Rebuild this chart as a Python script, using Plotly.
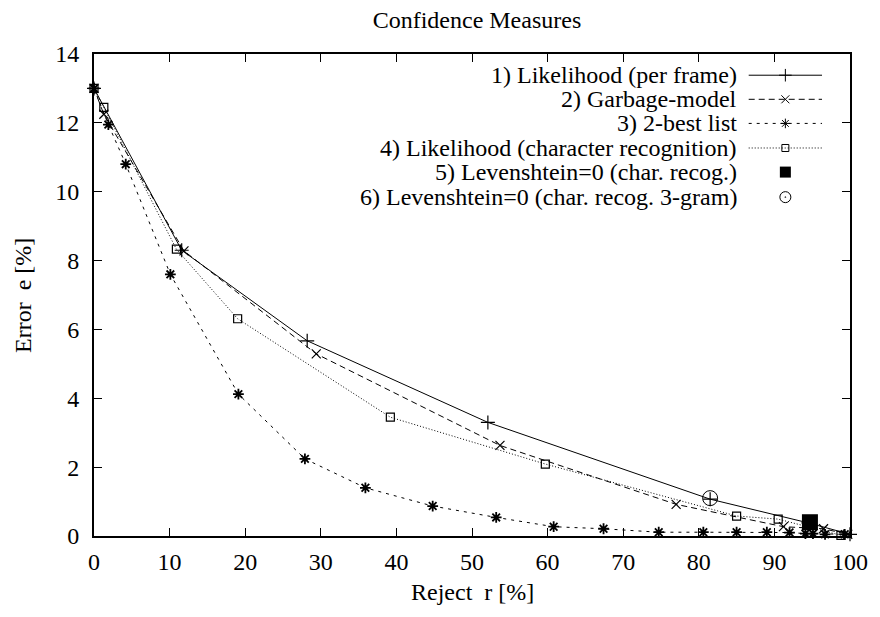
import plotly.graph_objects as go

# ---- data ----
s1_x = [0, 11.6, 28.2, 52.1, 81.5, 94.5, 100]
s1_y = [13.0, 8.3, 5.67, 3.3, 1.07, 0.38, 0.05]

s2_x = [0, 1.3, 11.9, 29.4, 53.7, 77.0, 91.2, 96.5, 99.7]
s2_y = [13.0, 12.25, 8.28, 5.29, 2.63, 0.92, 0.27, 0.21, 0.05]

s3_x = [0, 1.9, 4.2, 10.1, 19.1, 27.9, 35.9, 44.8, 53.2, 60.8, 67.4, 74.7, 80.6, 85.0, 89.0, 92.0, 94.1, 95.1, 96.7, 99.3]
s3_y = [13.0, 11.95, 10.8, 7.6, 4.12, 2.24, 1.40, 0.87, 0.54, 0.27, 0.21, 0.11, 0.11, 0.11, 0.11, 0.1, 0.07, 0.07, 0.05, 0.05]

s4_x = [0, 1.3, 10.9, 19.0, 39.2, 59.7, 85.0, 90.5, 98.8]
s4_y = [13.0, 12.45, 8.33, 6.31, 3.45, 2.09, 0.58, 0.49, 0.02]

s5_x = [94.7]
s5_y = [0.4]

s6_x = [81.5]
s6_y = [1.1]

labels = [
    "1) Likelihood (per frame)",
    "2) Garbage-model",
    "3) 2-best list",
    "4) Likelihood (character recognition)",
    "5) Levenshtein=0 (char. recog.)",
    "6) Levenshtein=0 (char. recog. 3-gram)",
]

x_ticks = list(range(0, 101, 10))
y_ticks = list(range(0, 15, 2))

FONT = "Liberation Serif"
FS = 24

styles = [
    dict(dash="solid", symbol="cross-thin", size=10, lw=1.2),
    dict(dash="6px,4px", symbol="x-thin", size=9, lw=1.2),
    dict(dash="3px,5px", symbol="asterisk", size=9, lw=1.8),
    dict(dash="1px,2px", symbol="square-open", size=8, lw=1.2),
]

fig = go.Figure()
series = [(s1_x, s1_y), (s2_x, s2_y), (s3_x, s3_y), (s4_x, s4_y)]
for (xs, ys), st, name in zip(series, styles, labels):
    fig.add_trace(go.Scatter(
        x=xs, y=ys, mode="lines+markers", name=name, showlegend=False,
        cliponaxis=False,
        line=dict(color="black", width=1, dash=st["dash"]),
        marker=dict(symbol=st["symbol"], size=st["size"], color="black",
                    line=dict(color="black", width=st["lw"])),
    ))

fig.add_trace(go.Scatter(
    x=s5_x, y=s5_y, mode="markers", name=labels[4], showlegend=False, cliponaxis=False,
    marker=dict(symbol="square", size=16, color="black", line=dict(width=0)),
))
fig.add_trace(go.Scatter(
    x=s6_x, y=s6_y, mode="markers", name=labels[5], showlegend=False, cliponaxis=False,
    marker=dict(symbol="circle-open", size=15, color="black", line=dict(color="black", width=1)),
))

# ---- custom gnuplot-style key (text right-aligned, sample on right) ----
row_y = [0.956, 0.906, 0.856, 0.805, 0.755, 0.703]
text_x = 0.853
samp_x0, samp_x1 = 0.866, 0.963
samp_xm = (samp_x0 + samp_x1) / 2
annotations = []
shapes = []
for i, lab in enumerate(labels):
    annotations.append(dict(
        x=text_x, y=row_y[i], xref="paper", yref="paper", text=lab,
        showarrow=False, xanchor="right", yanchor="middle",
        font=dict(family=FONT, size=FS, color="black"),
    ))
for i, st in enumerate(styles):
    shapes.append(dict(
        type="line", xref="paper", yref="paper",
        x0=samp_x0, x1=samp_x1, y0=row_y[i], y1=row_y[i],
        line=dict(color="black", width=1, dash=st["dash"]),
    ))
    fig.add_trace(go.Scatter(
        x=[samp_xm], y=[row_y[i]], xaxis="x2", yaxis="y2", mode="markers",
        showlegend=False, hoverinfo="skip", cliponaxis=False,
        marker=dict(symbol=st["symbol"], size=st["size"] - 1, color="black",
                    line=dict(color="black", width=1)),
    ))
fig.add_trace(go.Scatter(
    x=[samp_xm], y=[row_y[4]], xaxis="x2", yaxis="y2", mode="markers",
    showlegend=False, hoverinfo="skip", cliponaxis=False,
    marker=dict(symbol="square", size=11, color="black", line=dict(width=0)),
))
fig.add_trace(go.Scatter(
    x=[samp_xm], y=[row_y[5]], xaxis="x2", yaxis="y2", mode="markers",
    showlegend=False, hoverinfo="skip", cliponaxis=False,
    marker=dict(symbol="circle-open-dot", size=11, color="black", line=dict(color="black", width=1)),
))

# axis labels
annotations.append(dict(
    x=0.5, y=-0.116, xref="paper", yref="paper", text="Reject\u00a0 r [%]",
    showarrow=False, xanchor="center", yanchor="middle",
    font=dict(family=FONT, size=FS, color="black"),
))
annotations.append(dict(
    x=-0.094, y=0.5, xref="paper", yref="paper", text="Error\u00a0 e [%]",
    showarrow=False, xanchor="center", yanchor="middle", textangle=-90,
    font=dict(family=FONT, size=FS, color="black"),
))

axis_common = dict(
    showgrid=False, zeroline=False, showline=True, linecolor="black", linewidth=2,
    mirror="ticks", ticks="inside", ticklen=8, tickwidth=1, tickcolor="black",
    tickfont=dict(family=FONT, size=FS, color="black"),
)

fig.update_layout(
    width=880, height=617,
    margin=dict(l=94, r=20, t=54, b=81),
    paper_bgcolor="white", plot_bgcolor="white",
    title=dict(text="Confidence Measures", x=0.542, xanchor="center",
               y=1 - 20 / 617, yref="container", yanchor="middle",
               font=dict(family=FONT, size=FS, color="black")),
    xaxis=dict(range=[0, 100], tickvals=x_ticks, ticklabelstandoff=3, **axis_common),
    yaxis=dict(range=[0, 14], tickvals=y_ticks, ticklabelstandoff=8, **axis_common),
    xaxis2=dict(range=[0, 1], overlaying="x", visible=False),
    yaxis2=dict(range=[0, 1], overlaying="y", visible=False),
    annotations=annotations,
    shapes=shapes,
    showlegend=False,
)

fig.write_html("out.html", config={"displayModeBar": False},
               post_script="document.body.style.margin='0';")
